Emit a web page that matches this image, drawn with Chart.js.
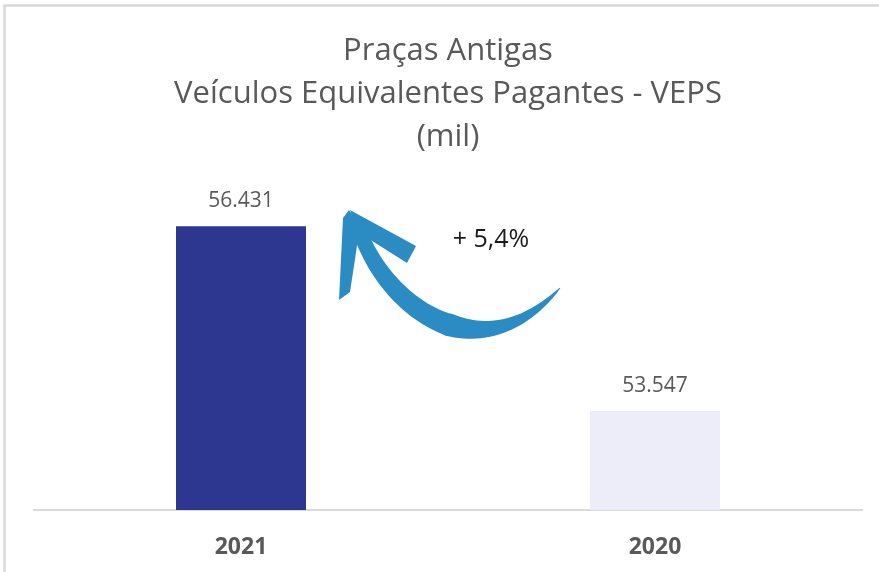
<!DOCTYPE html>
<html>
<head>
<meta charset="utf-8">
<script src="https://cdn.jsdelivr.net/npm/chart.js@4/dist/chart.umd.min.js"></script>
<style>
  html, body { margin: 0; padding: 0; background: #fff; }
  #wrap { width: 879px; height: 572px; }
</style>
</head>
<body>
<div id="wrap"><canvas id="myChart" width="879" height="572"></canvas></div>
<script>
var categories = ['2021', '2020'];
var veps = [56431, 53547];
var barColors = ['#2e3790', '#ededf9'];
var titleLines = ['Praças Antigas', 'Veículos Equivalentes Pagantes - VEPS', '(mil)'];
var growthText = '+ 5,4%';

var fmt = new Intl.NumberFormat('pt-BR');

// frame + white background
var framePlugin = {
  id: 'frame',
  beforeDraw: function(chart) {
    var c = chart.ctx;
    c.save();
    c.fillStyle = '#fff';
    c.fillRect(0, 0, chart.width, chart.height);
    c.strokeStyle = '#d9d9d9';
    c.lineWidth = 2.5;
    c.beginPath();
    c.moveTo(4.5, chart.height);
    c.lineTo(4.5, 5.5);
    c.lineTo(chart.width, 5.5);
    c.stroke();
    c.restore();
  }
};

// values above the bars
var labelPlugin = {
  id: 'barLabels',
  afterDatasetsDraw: function(chart) {
    var c = chart.ctx;
    var meta = chart.getDatasetMeta(0);
    c.save();
    c.font = '21px "Open Sans"';
    c.fillStyle = '#595959';
    c.textAlign = 'center';
    c.textBaseline = 'middle';
    meta.data.forEach(function(bar, i) {
      c.fillText(fmt.format(veps[i]), bar.x, bar.y - 25);
    });
    c.restore();
  }
};

function cubic(p, t) {
  var u = 1 - t;
  return {
    x: u*u*u*p[0][0] + 3*u*u*t*p[1][0] + 3*u*t*t*p[2][0] + t*t*t*p[3][0],
    y: u*u*u*p[0][1] + 3*u*u*t*p[1][1] + 3*u*t*t*p[2][1] + t*t*t*p[3][1]
  };
}

// curved arrow + growth text
var arrowPlugin = {
  id: 'arrow',
  afterDraw: function(chart) {
    var c = chart.ctx;
    c.save();
    c.fillStyle = '#2b8cc4';
    var pts = [[358, 226], [383, 305], [478, 378], [560, 288]];
    var left = [], right = [];
    var n = 60;
    for (var i = 0; i <= n; i++) {
      var t = i / n;
      var a = cubic(pts, Math.max(0, t - 0.001));
      var b = cubic(pts, Math.min(1, t + 0.001));
      var p = cubic(pts, t);
      var dx = b.x - a.x, dy = b.y - a.y;
      var len = Math.sqrt(dx*dx + dy*dy) || 1;
      var nx = -dy / len, ny = dx / len;
      var hw = t < 0.55 ? 7 + 4 * t / 0.55 : 11 * Math.pow(1 - (t - 0.55) / 0.45, 0.8) + 0.4;
      left.push([p.x + nx*hw, p.y + ny*hw]);
      right.push([p.x - nx*hw, p.y - ny*hw]);
    }
    c.beginPath();
    c.moveTo(left[0][0], left[0][1]);
    left.forEach(function(q) { c.lineTo(q[0], q[1]); });
    right.reverse().forEach(function(q) { c.lineTo(q[0], q[1]); });
    c.closePath();
    c.fill();
    // left barb
    c.beginPath();
    c.moveTo(349, 210);
    c.lineTo(360, 226);
    c.lineTo(350, 292);
    c.lineTo(339, 300);
    c.lineTo(343, 218);
    c.closePath();
    c.fill();
    // right barb
    c.beginPath();
    c.moveTo(350, 210);
    c.lineTo(416, 246);
    c.lineTo(407, 263);
    c.lineTo(358, 232);
    c.closePath();
    c.fill();

    c.font = '25px "Open Sans"';
    c.fillStyle = '#1a1a1a';
    c.textAlign = 'center';
    c.textBaseline = 'middle';
    c.fillText(growthText, 491, 240);
    c.restore();
  }
};

var ctx = document.getElementById('myChart').getContext('2d');
var myChart = new Chart(ctx, {
  type: 'bar',
  data: {
    labels: categories,
    datasets: [{
      data: veps,
      backgroundColor: barColors,
      categoryPercentage: 1,
      barPercentage: 0.314
    }]
  },
  options: {
    responsive: false,
    animation: false,
    layout: { padding: { top: 30, left: 34, right: 17, bottom: 0 } },
    plugins: {
      legend: { display: false },
      tooltip: { enabled: false },
      title: {
        display: true,
        text: titleLines,
        color: '#595959',
        font: { family: 'Open Sans', size: 31, weight: 'normal', lineHeight: '43px' },
        padding: { top: 0, bottom: 0 }
      }
    },
    scales: {
      x: {
        grid: { display: false, drawTicks: false },
        border: { display: true, color: '#d9d9d9', width: 2 },
        ticks: {
          color: '#595959',
          padding: 24,
          font: { family: 'Open Sans', size: 23, weight: 'bold' }
        },
        afterFit: function(scale) { scale.height = 62; }
      },
      y: {
        display: false,
        min: 52000,
        max: 57480
      }
    }
  },
  plugins: [framePlugin, labelPlugin, arrowPlugin]
});
</script>
</body>
</html>
